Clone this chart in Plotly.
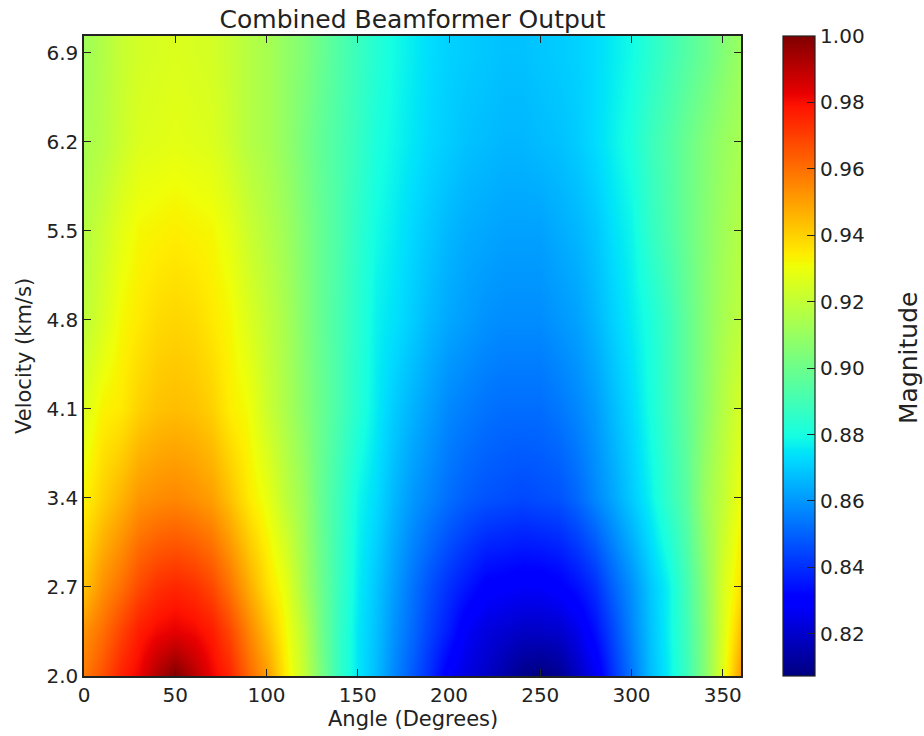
import plotly.graph_objects as go

# Beam angle grid (degrees) and trial velocities (km/s)
angles = list(range(0, 361, 10))
velocities = [2.0, 2.35, 2.7, 3.4, 4.1, 4.8, 5.5, 6.2, 6.9]

# Normalised beamformer magnitude, one row per velocity
mag_v200 = [0.958, 0.966, 0.976, 0.982, 0.992, 1.000, 0.991, 0.982, 0.975, 0.962, 0.951, 0.935, 0.921,
            0.903, 0.886, 0.875, 0.867, 0.857, 0.848, 0.839, 0.828, 0.823, 0.819, 0.814, 0.809, 0.807,
            0.810, 0.818, 0.826, 0.841, 0.854, 0.867, 0.876, 0.888, 0.906, 0.928, 0.952]
mag_v235 = [0.953, 0.960, 0.969, 0.977, 0.981, 0.983, 0.981, 0.977, 0.968, 0.956, 0.944, 0.932, 0.919,
            0.901, 0.886, 0.875, 0.868, 0.859, 0.851, 0.843, 0.836, 0.827, 0.823, 0.821, 0.819, 0.819,
            0.820, 0.825, 0.834, 0.845, 0.857, 0.868, 0.877, 0.889, 0.906, 0.926, 0.944]
mag_v270 = [0.943, 0.953, 0.960, 0.968, 0.973, 0.975, 0.973, 0.968, 0.959, 0.948, 0.937, 0.929, 0.914,
            0.900, 0.887, 0.876, 0.869, 0.861, 0.853, 0.846, 0.840, 0.835, 0.830, 0.829, 0.828, 0.828,
            0.830, 0.834, 0.840, 0.850, 0.859, 0.869, 0.877, 0.890, 0.907, 0.925, 0.937]
mag_v340 = [0.933, 0.940, 0.946, 0.952, 0.954, 0.955, 0.953, 0.950, 0.943, 0.935, 0.929, 0.919, 0.911,
            0.898, 0.888, 0.878, 0.873, 0.866, 0.860, 0.856, 0.852, 0.849, 0.847, 0.846, 0.845, 0.846,
            0.847, 0.851, 0.857, 0.863, 0.870, 0.877, 0.886, 0.895, 0.911, 0.920, 0.931]
mag_v410 = [0.926, 0.933, 0.935, 0.940, 0.943, 0.944, 0.943, 0.940, 0.934, 0.931, 0.922, 0.915, 0.907,
            0.899, 0.891, 0.883, 0.876, 0.870, 0.865, 0.861, 0.857, 0.855, 0.853, 0.852, 0.852, 0.852,
            0.854, 0.857, 0.861, 0.867, 0.873, 0.880, 0.888, 0.897, 0.907, 0.917, 0.925]
mag_v480 = [0.919, 0.925, 0.932, 0.935, 0.938, 0.939, 0.938, 0.935, 0.932, 0.926, 0.920, 0.914, 0.906,
            0.898, 0.891, 0.884, 0.877, 0.874, 0.870, 0.866, 0.863, 0.861, 0.859, 0.858, 0.858, 0.858,
            0.860, 0.862, 0.866, 0.871, 0.876, 0.881, 0.888, 0.897, 0.906, 0.914, 0.919]
mag_v550 = [0.917, 0.922, 0.928, 0.932, 0.933, 0.934, 0.933, 0.932, 0.928, 0.922, 0.917, 0.912, 0.905,
            0.898, 0.892, 0.885, 0.879, 0.876, 0.872, 0.869, 0.866, 0.864, 0.863, 0.862, 0.862, 0.862,
            0.864, 0.866, 0.869, 0.874, 0.878, 0.886, 0.892, 0.899, 0.906, 0.912, 0.917]
mag_v620 = [0.914, 0.917, 0.922, 0.926, 0.927, 0.928, 0.927, 0.926, 0.922, 0.917, 0.914, 0.909, 0.903,
            0.897, 0.892, 0.887, 0.881, 0.878, 0.875, 0.872, 0.870, 0.868, 0.867, 0.866, 0.866, 0.867,
            0.868, 0.870, 0.873, 0.877, 0.881, 0.888, 0.893, 0.899, 0.905, 0.910, 0.914]
mag_v690 = [0.912, 0.916, 0.921, 0.924, 0.925, 0.926, 0.925, 0.924, 0.921, 0.917, 0.914, 0.909, 0.905,
            0.899, 0.893, 0.888, 0.883, 0.879, 0.876, 0.873, 0.871, 0.870, 0.869, 0.868, 0.868, 0.869,
            0.870, 0.871, 0.873, 0.876, 0.879, 0.884, 0.889, 0.894, 0.899, 0.905, 0.911]

magnitude = [mag_v200, mag_v235, mag_v270, mag_v340, mag_v410,
             mag_v480, mag_v550, mag_v620, mag_v690]

x_ticks = [0, 50, 100, 150, 200, 250, 300, 350]
y_ticks = [2.0, 2.7, 3.4, 4.1, 4.8, 5.5, 6.2, 6.9]
cbar_ticks = [0.82, 0.84, 0.86, 0.88, 0.90, 0.92, 0.94, 0.96, 0.98, 1.00]

# matplotlib-style "jet" colour map
jet = [
    [0.000, "rgb(0,0,128)"],
    [0.110, "rgb(0,0,255)"],
    [0.125, "rgb(0,0,255)"],
    [0.340, "rgb(0,219,255)"],
    [0.350, "rgb(0,229,247)"],
    [0.375, "rgb(21,255,226)"],
    [0.640, "rgb(239,255,8)"],
    [0.650, "rgb(247,245,0)"],
    [0.660, "rgb(255,236,0)"],
    [0.890, "rgb(255,19,0)"],
    [0.910, "rgb(232,0,0)"],
    [1.000, "rgb(128,0,0)"],
]

FONT = "DejaVu Sans"

fig = go.Figure(
    go.Heatmap(
        x=angles,
        y=velocities,
        z=magnitude,
        zsmooth="best",
        colorscale=jet,
        zmin=0.8073,
        zmax=1.0,
        colorbar=dict(
            x=(783 - 84) / 657,
            xanchor="left",
            xpad=0,
            y=0.5,
            yanchor="middle",
            len=1.0,
            lenmode="fraction",
            ypad=0,
            thickness=32,
            thicknessmode="pixels",
            outlinewidth=1.2,
            outlinecolor="#222222",
            ticks="inside",
            ticklen=8,
            tickwidth=1,
            tickcolor="#222222",
            tickvals=cbar_ticks,
            tickformat=".2f",
            tickfont=dict(family=FONT, size=20, color="#222222"),
        ),
        hoverinfo="skip",
    )
)

axis_common = dict(
    showgrid=False,
    zeroline=False,
    showline=True,
    linecolor="#222222",
    linewidth=1.5,
    mirror="allticks",
    ticks="inside",
    ticklen=7,
    tickwidth=1,
    tickcolor="#222222",
    tickfont=dict(family=FONT, size=20, color="#222222"),
)

fig.update_xaxes(range=[0, 360], tickvals=x_ticks, **axis_common)
fig.update_yaxes(range=[2.0, 7.03], tickvals=y_ticks, tickformat=".1f", **axis_common)

fig.update_layout(
    width=924,
    height=736,
    margin=dict(l=84, r=183, t=36, b=60),
    paper_bgcolor="white",
    plot_bgcolor="white",
    font=dict(family=FONT, color="#222222"),
    title=dict(
        text="Combined Beamformer Output",
        x=0.5,
        xref="paper",
        xanchor="center",
        y=1 - 19 / 736,
        yref="container",
        yanchor="middle",
        font=dict(family=FONT, size=25, color="#222222"),
    ),
    annotations=[
        dict(
            text="Angle (Degrees)",
            x=0.5, y=(676 - 719) / 640,
            xref="paper", yref="paper",
            xanchor="center", yanchor="middle",
            showarrow=False,
            font=dict(family=FONT, size=21, color="#222222"),
        ),
        dict(
            text="Velocity (km/s)",
            x=(24 - 84) / 657, y=0.5,
            xref="paper", yref="paper",
            xanchor="center", yanchor="middle",
            textangle=-90,
            showarrow=False,
            font=dict(family=FONT, size=21, color="#222222"),
        ),
        dict(
            text="Magnitude",
            x=(908 - 84) / 657, y=(676 - 358) / 640,
            xref="paper", yref="paper",
            xanchor="center", yanchor="middle",
            textangle=-90,
            showarrow=False,
            font=dict(family=FONT, size=25, color="#222222"),
        ),
    ],
)

fig.write_html("out.html")
